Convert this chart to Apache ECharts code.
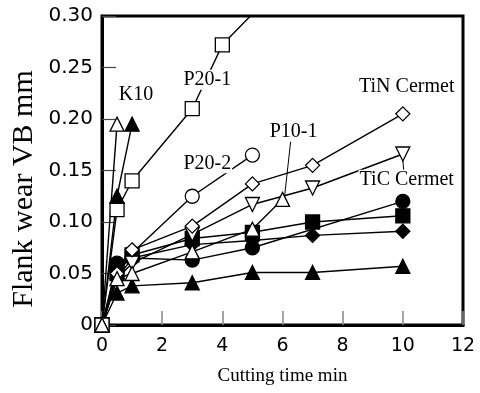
<!DOCTYPE html>
<html lang="en">
<head>
    <meta charset="UTF-8">
    <title>Flank wear vs cutting time</title>
    <script src="https://cdn.jsdelivr.net/npm/echarts@6/dist/echarts.min.js"></script>
    <style>
        html, body { margin: 0; padding: 0; background: #fff; }
    </style>
</head>
<body>
<div id="chart" style="width: 480px;height:393px;"></div>
<script>
    // cutting time (min) and flank wear VB (mm)
    var k10OpenX = [0, 0.5];
    var k10OpenY = [0, 0.195];
    var k10FillX = [0, 0.5, 1];
    var k10FillY = [0, 0.125, 0.195];
    var p201X = [0, 0.5, 1, 3, 4, 5];
    var p201Y = [0, 0.112, 0.14, 0.21, 0.272, 0.302];
    var p202X = [0, 0.5, 1, 3, 5];
    var p202Y = [0, 0.058, 0.07, 0.125, 0.165];
    var p101X = [0, 0.5, 1, 3, 5, 6];
    var p101Y = [0, 0.045, 0.05, 0.071, 0.093, 0.122];
    var tinX = [0, 0.5, 1, 3, 5, 7, 10];
    var tinY = [0, 0.05, 0.073, 0.096, 0.137, 0.155, 0.205];
    var ticX = [0, 0.5, 1, 3, 5, 7, 10];
    var ticY = [0, 0.045, 0.06, 0.088, 0.117, 0.133, 0.166];
    var circX = [0, 0.5, 1, 3, 5, 10];
    var circY = [0, 0.06, 0.065, 0.063, 0.075, 0.12];
    var sqX = [0, 0.5, 1, 3, 5, 7, 10];
    var sqY = [0, 0.05, 0.068, 0.084, 0.09, 0.1, 0.106];
    var diaX = [0, 0.5, 1, 3, 5, 7, 10];
    var diaY = [0, 0.045, 0.065, 0.078, 0.082, 0.087, 0.091];
    var triX = [0, 0.5, 1, 3, 5, 7, 10];
    var triY = [0, 0.031, 0.038, 0.041, 0.051, 0.051, 0.057];

    var xTicks = [0, 2, 4, 6, 8, 10, 12];

    function pairs(xs, ys) {
        return xs.map(function (x, i) { return [x, ys[i]]; });
    }

    var serif = '"Liberation Serif", "Times New Roman", serif';
    var sans = '"DejaVu Sans", Arial, sans-serif';

    function tag(text, coord) {
        return {
            coord: coord,
            symbol: 'circle',
            symbolSize: 1,
            itemStyle: { color: 'rgba(0,0,0,0)' },
            label: {
                show: true,
                position: 'inside',
                formatter: text,
                fontFamily: serif,
                fontSize: 20,
                color: '#000',
                backgroundColor: '#fff',
                padding: [0, 1]
            }
        };
    }

    function mk(data, symbol, filled, extra) {
        var s = {
            type: 'line',
            data: data,
            symbol: symbol,
            symbolSize: 14,
            showAllSymbol: true,
            clip: true,
            lineStyle: { color: '#000', width: 1.4 },
            itemStyle: {
                color: filled ? '#000' : '#fff',
                borderColor: '#000',
                borderWidth: 1.3
            }
        };
        for (var k in extra) s[k] = extra[k];
        return s;
    }

    var leader = function (a, b) {
        return {
            silent: true,
            symbol: ['none', 'none'],
            lineStyle: { color: '#000', width: 1, type: 'solid' },
            label: { show: false },
            data: [[{ coord: a }, { coord: b }]]
        };
    };

    var myChart = echarts.init(document.getElementById('chart'));
    myChart.setOption({
        animation: false,
        grid: {
            left: 102,
            top: 16,
            width: 361,
            height: 309,
            containLabel: false,
            outerBoundsMode: 'none',
            show: true,
            borderColor: '#000',
            borderWidth: 3,
            backgroundColor: '#fff'
        },
        // the y title sits a bit below the middle of the axis in the original
        graphic: [{
            type: 'text',
            x: 24,
            y: 189,
            rotation: Math.PI / 2,
            style: {
                text: 'Flank wear VB mm',
                fontFamily: serif,
                fontSize: 30,
                fill: '#000',
                align: 'center',
                verticalAlign: 'middle'
            }
        }],
        xAxis: {
            type: 'value',
            min: 0,
            max: 12,
            interval: 2,
            name: 'Cutting time min',
            nameLocation: 'middle',
            nameGap: 42,
            nameTextStyle: { fontFamily: serif, fontSize: 19, color: '#000' },
            axisLine: { show: true, lineStyle: { color: '#000', width: 3 } },
            axisTick: { show: true, inside: true, length: 14, lineStyle: { color: '#888', width: 1.5 } },
            axisLabel: {
                fontFamily: sans, fontSize: 19, color: '#000', margin: 12,
                formatter: function (v) { return xTicks.indexOf(v) >= 0 ? String(v) : ''; }
            },
            splitLine: { show: false }
        },
        yAxis: {
            type: 'value',
            min: 0,
            max: 0.30,
            interval: 0.05,
            axisLine: { show: true, lineStyle: { color: '#000', width: 3 } },
            axisTick: { show: true, inside: true, length: 14, lineStyle: { color: '#444', width: 1.2 } },
            axisLabel: {
                fontFamily: sans, fontSize: 20, color: '#000', margin: 9,
                formatter: function (v) {
                    var r = Math.round(v * 100) / 100;
                    return r === 0 ? '0' : r.toFixed(2);
                }
            },
            splitLine: { show: false }
        },
        series: [
            mk(pairs(p202X, p202Y), 'circle', false, {
                markPoint: { data: [tag('P20-2', [3.5, 0.157])] }
            }),
            mk(pairs(triX, triY), 'triangle', true, {}),
            mk(pairs(diaX, diaY), 'diamond', true, {}),
            mk(pairs(sqX, sqY), 'rect', true, {}),
            mk(pairs(circX, circY), 'circle', true, {}),
            mk(pairs(ticX, ticY), 'triangle', false, {
                symbolRotate: 180,
                markPoint: { data: [tag('TiC Cermet', [10.13, 0.141])] },
                markLine: leader([10.0, 0.160], [10.03, 0.150])
            }),
            mk(pairs(tinX, tinY), 'diamond', false, {
                markPoint: { data: [tag('TiN Cermet', [10.13, 0.231])] }
            }),
            mk(pairs(p101X, p101Y), 'triangle', false, {
                markPoint: { data: [tag('P10-1', [6.37, 0.188])] },
                markLine: leader([6.27, 0.178], [6.07, 0.125])
            }),
            mk(pairs(p201X, p201Y), 'rect', false, {
                markPoint: { data: [tag('P20-1', [3.5, 0.238])] }
            }),
            mk(pairs(k10FillX, k10FillY), 'triangle', true, {}),
            mk(pairs(k10OpenX, k10OpenY), 'triangle', false, {
                markPoint: { data: [tag('K10', [1.13, 0.224])] }
            })
        ]
    });
</script>
</body>
</html>
